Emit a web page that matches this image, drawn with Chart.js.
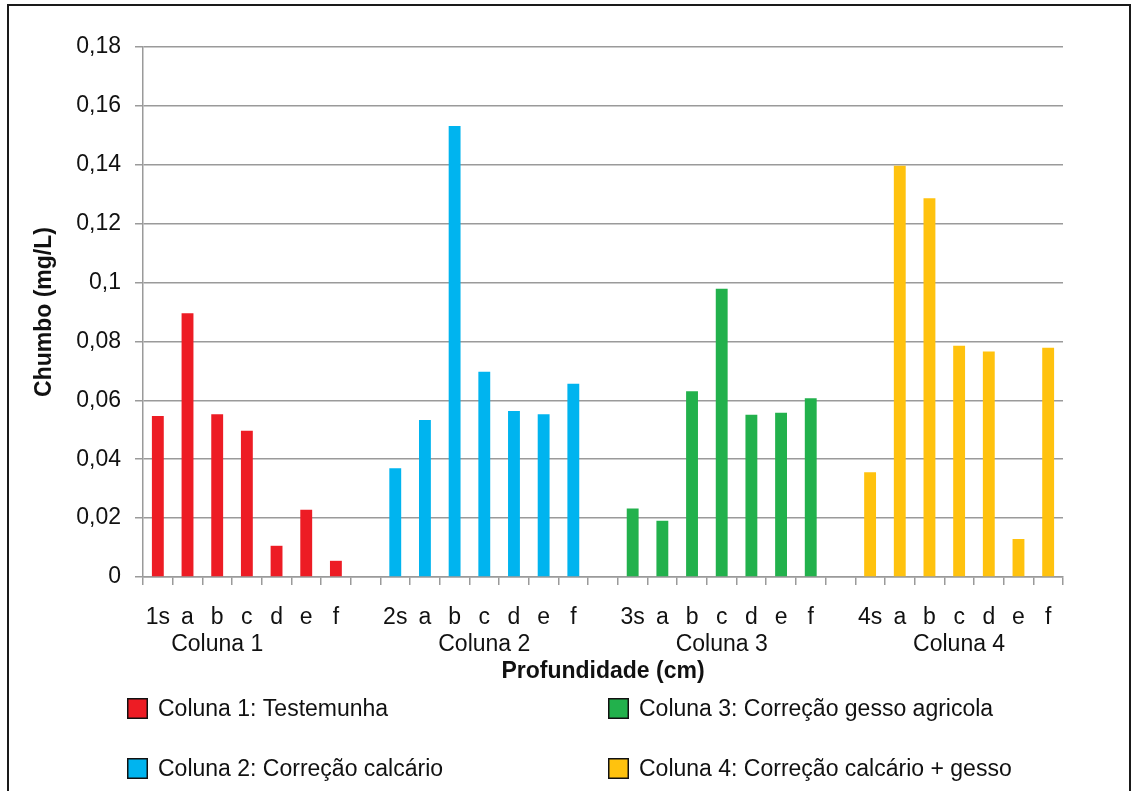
<!DOCTYPE html>
<html><head><meta charset="utf-8">
<script src="https://cdn.jsdelivr.net/npm/chart.js@4.4.0/dist/chart.umd.min.js"></script>
<style>html,body{margin:0;padding:0;background:#fff;overflow:hidden}#wrap{position:relative;width:1132px;height:791px}</style>
</head><body><div id="wrap"><canvas id="c" width="1132" height="791"></canvas></div>
<script>
// ---- data ----
const categories = ['1s','a','b','c','d','e','f','',
                    '2s','a','b','c','d','e','f','',
                    '3s','a','b','c','d','e','f','',
                    '4s','a','b','c','d','e','f'];
const groupLabels = ['','','Coluna 1','','','','','',
                     '','','','Coluna 2','','','','',
                     '','','','Coluna 3','','','','',
                     '','','','Coluna 4','','',''];
const seriesNames = ['Coluna 1: Testemunha','Coluna 2: Correção calcário','Coluna 3: Correção gesso agricola','Coluna 4: Correção calcário + gesso'];
const coluna1 = [0.0547,0.0896,0.0553,0.0497,0.0106,0.0228,0.0055];
const coluna2 = [0.0369,0.0533,0.1532,0.0697,0.0564,0.0553,0.0656];
const coluna3 = [0.0233,0.0191,0.0631,0.0979,0.0551,0.0558,0.0607];
const coluna4 = [0.0356,0.1397,0.1286,0.0785,0.0766,0.0129,0.0779];
const seriesColors = ['#ED1C24','#00B4EF','#22B14C','#FFC20E'];
const yMin = 0, yMax = 0.18, yStep = 0.02;

// build padded datasets (group i occupies categories 8*i .. 8*i+6)
const groups = [coluna1, coluna2, coluna3, coluna4];
const datasets = groups.map((vals, gi) => {
  const d = categories.map(() => null);
  vals.forEach((v, k) => { d[gi*8 + k] = v; });
  return {label: seriesNames[gi], data: d, backgroundColor: seriesColors[gi], borderWidth: 0,
          grouped: false, barPercentage: 0.4, categoryPercentage: 1.0, xAxisID: 'x', yAxisID: 'y'};
});

const FONT = "'Liberation Sans', Arial, sans-serif";
const FS = 23;
const GRID = '#9a9a9a';

const legendPlugin = {
  id: 'customLegend',
  afterDraw(chart) {
    const ctx = chart.ctx;
    ctx.save();
    const pos = [[127,708],[127,768],[608,708],[608,768]];
    chart.data.datasets.forEach((ds, i) => {
      const [x, y] = pos[i];
      ctx.fillStyle = ds.backgroundColor;
      ctx.fillRect(x, y - 10, 21, 21);
      ctx.strokeStyle = '#111';
      ctx.lineWidth = 1.5;
      ctx.strokeRect(x + 0.75, y - 9.25, 19.5, 19.5);
      ctx.fillStyle = '#111';
      ctx.font = FS + 'px ' + FONT;
      ctx.textBaseline = 'middle';
      ctx.textAlign = 'left';
      ctx.fillText(ds.label, x + 31, y + 2);
    });
    // outer frame
    ctx.strokeStyle = '#1a1a1a';
    ctx.lineWidth = 2;
    ctx.beginPath();
    ctx.moveTo(8, 800); ctx.lineTo(8, 5); ctx.lineTo(1130, 5); ctx.lineTo(1130, 800);
    ctx.stroke();
    ctx.restore();
  }
};

new Chart(document.getElementById('c'), {
  type: 'bar',
  data: { labels: categories, datasets: datasets },
  plugins: [legendPlugin],
  options: {
    responsive: false, animation: false, devicePixelRatio: 1,
    layout: { padding: { left: 28, top: 47, right: 69, bottom: 102 } },
    plugins: { legend: { display: false }, tooltip: { enabled: false } },
    scales: {
      y: {
        min: yMin, max: yMax,
        ticks: { stepSize: yStep, padding: 14, color: '#111', font: { family: FONT, size: FS },
                 callback: v => Number(v.toFixed(2)).toString().replace('.', ',') },
        grid: { color: GRID, lineWidth: 1.5, tickLength: 8 },
        border: { color: GRID, width: 1.5 },
        title: { display: true, text: 'Chumbo (mg/L)', color: '#111', font: { family: FONT, size: FS, weight: 'bold' }, padding: { top: 3, bottom: 4 } },
        afterFit: s => { s.width = 115; }
      },
      x: {
        weight: 0,
        offset: true,
        ticks: { autoSkip: false, maxRotation: 0, minRotation: 0, padding: 19, color: '#111', font: { family: FONT, size: FS } },
        grid: { drawOnChartArea: false, offset: true, tickLength: 8, color: GRID, lineWidth: 1.5 },
        border: { color: GRID, width: 1.5 },
        afterFit: s => { s.height = 54; }
      },
      x2: {
        type: 'category', position: 'bottom', weight: 1,
        labels: groupLabels, offset: true,
        ticks: { autoSkip: false, maxRotation: 0, minRotation: 0, padding: 0, color: '#111', font: { family: FONT, size: FS } },
        grid: { display: false, drawTicks: false },
        border: { display: false },
        title: { display: true, text: 'Profundidade (cm)', color: '#111', font: { family: FONT, size: FS, weight: 'bold' }, padding: { top: 0, bottom: 4 } },
        afterFit: s => { s.height = 58; }
      }
    }
  }
});
</script></body></html>
